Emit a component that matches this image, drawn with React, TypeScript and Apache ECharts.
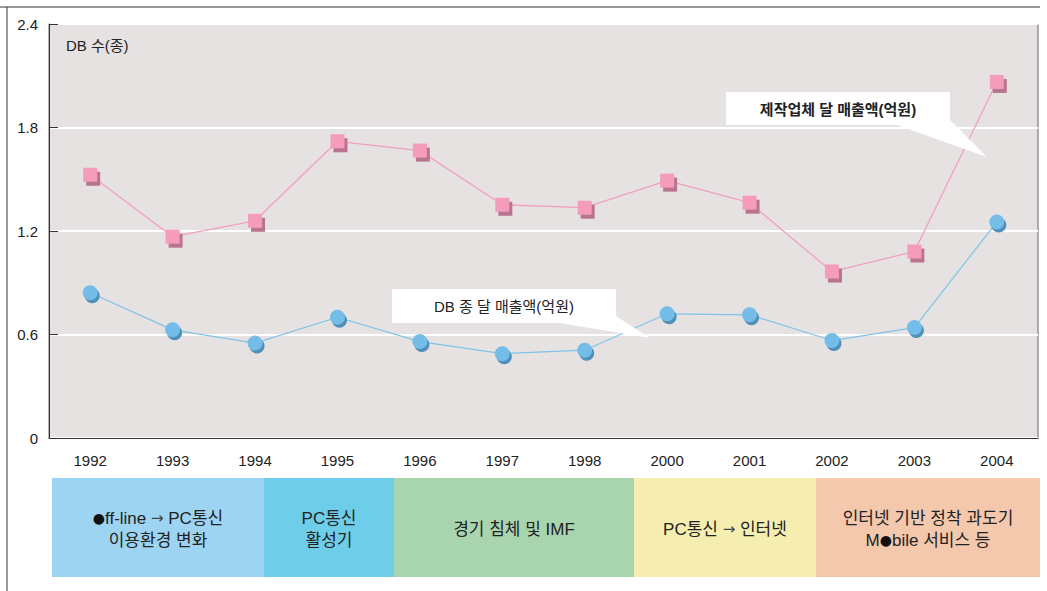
import React, { useEffect, useRef } from "react";
import * as echarts from "echarts";

const years = ["1992", "1993", "1994", "1995", "1996", "1997", "1998", "2000", "2001", "2002", "2003", "2004"];
const makerSales = [1.526, 1.167, 1.259, 1.72, 1.666, 1.352, 1.335, 1.492, 1.364, 0.965, 1.081, 2.064];
const dbSales = [0.842, 0.627, 0.55, 0.7, 0.559, 0.489, 0.509, 0.72, 0.714, 0.565, 0.64, 1.252];
const yTicks = [0, 0.6, 1.2, 1.8, 2.4];
const unitLabel = "DB 수(종)";
const makerLabel = "제작업체 달 매출액(억원)";
const dbLabel = "DB 종 달 매출액(억원)";
const periods = [
  { lines: ["{dot|●}ff-line {arr|→} PC통신", "이용환경 변화"], x0: 52, x1: 264, color: "#9dd4f2" },
  { lines: ["PC통신", "활성기"], x0: 264, x1: 394, color: "#6ecde9" },
  { lines: ["경기 침체 및 IMF"], x0: 394, x1: 634, color: "#a8d5ae" },
  { lines: ["PC통신 {arr|→} 인터넷"], x0: 634, x1: 816, color: "#f5eeb0" },
  { lines: ["인터넷 기반 정착 과도기", "M{dot|●}bile 서비스 등"], x0: 816, x1: 1040, color: "#f3c8ad" },
];

const FONT = "'Liberation Sans', 'Noto Sans CJK KR', sans-serif";

export default function App() {
  const ref = useRef<HTMLDivElement>(null);
  useEffect(() => {
    if (!ref.current) return;
    const chart = echarts.init(ref.current, undefined, { renderer: "svg" });
    const bandGraphics: any[] = [];
    periods.forEach((p) => {
      bandGraphics.push({
        type: "rect",
        shape: { x: p.x0, y: 478, width: p.x1 - p.x0, height: 99 },
        style: { fill: p.color },
        z: 1,
      });
      bandGraphics.push({
        type: "text",
        x: (p.x0 + p.x1) / 2,
        y: 529,
        style: {
          text: p.lines.join("\n"),
          fill: "#222",
          font: `17px ${FONT}`,
          align: "center",
          verticalAlign: "middle",
          lineHeight: 22,
          rich: {
            dot: { fontSize: 14, fill: "#111", fontFamily: "'DejaVu Sans', sans-serif", lineHeight: 22 },
            arr: { fontSize: 15, fill: "#444", fontFamily: "'DejaVu Sans', sans-serif", lineHeight: 22 },
          },
        },
        z: 2,
      });
    });
    const option: any = {
      animation: false,
      backgroundColor: "#ffffff",
      textStyle: { fontFamily: FONT },
      grid: {
        left: 49,
        top: 24,
        right: 9,
        bottom: 153,
        show: true,
        backgroundColor: "#e6e2e1",
        borderColor: "#666",
        borderWidth: 1,
      },
      xAxis: {
        type: "category",
        data: years,
        boundaryGap: true,
        axisLine: { lineStyle: { color: "#333", width: 1 } },
        axisTick: { inside: true, length: 9, lineStyle: { color: "#333" } },
        axisLabel: { color: "#222", fontSize: 15, margin: 15, fontFamily: FONT },
        splitLine: { show: false },
      },
      yAxis: {
        type: "value",
        min: yTicks[0],
        max: yTicks[yTicks.length - 1],
        interval: 0.6,
        axisLine: { show: true, lineStyle: { color: "#333", width: 1 } },
        axisTick: { show: true, inside: true, length: 9, lineStyle: { color: "#333" } },
        axisLabel: { color: "#222", fontSize: 15, margin: 11, fontFamily: FONT },
        splitLine: { show: true, lineStyle: { color: "#ffffff", width: 2 } },
      },
      series: [
        {
          name: makerLabel + " line",
          type: "line",
          data: makerSales,
          showSymbol: false,
          lineStyle: { color: "#f2a0bb", width: 1.3 },
          z: 2,
        },
        {
          name: makerLabel + " shadow",
          type: "line",
          data: makerSales,
          symbol: "rect",
          symbolSize: 14,
          symbolOffset: [3, 4],
          itemStyle: { color: "#b87490" },
          lineStyle: { opacity: 0, width: 0 },
          z: 3,
        },
        {
          name: makerLabel,
          type: "line",
          data: makerSales,
          symbol: "rect",
          symbolSize: 14,
          itemStyle: { color: "#f49cb9" },
          lineStyle: { opacity: 0, width: 0 },
          z: 4,
        },
        {
          name: dbLabel + " line",
          type: "line",
          data: dbSales,
          showSymbol: false,
          lineStyle: { color: "#7fc3ea", width: 1.2 },
          z: 2,
        },
        {
          name: dbLabel + " shadow",
          type: "line",
          data: dbSales,
          symbol: "circle",
          symbolSize: 15,
          symbolOffset: [2, 3],
          itemStyle: { color: "#4f8fb8" },
          lineStyle: { opacity: 0, width: 0 },
          z: 3,
        },
        {
          name: dbLabel,
          type: "line",
          data: dbSales,
          symbol: "circle",
          symbolSize: 15,
          itemStyle: { color: "#74bde8" },
          lineStyle: { opacity: 0, width: 0 },
          z: 4,
        },
      ],
      graphic: [
        { type: "line", shape: { x1: 0, y1: 7, x2: 1040, y2: 7 }, style: { stroke: "#333", lineWidth: 1 }, z: 10 },
        { type: "line", shape: { x1: 7, y1: 7, x2: 7, y2: 591 }, style: { stroke: "#333", lineWidth: 1 }, z: 10 },
        {
          type: "text",
          x: 66,
          y: 45,
          style: { text: unitLabel, fill: "#222", font: `15px ${FONT}`, verticalAlign: "middle" },
          z: 10,
        },
        {
          type: "polygon",
          shape: { points: [[616, 316], [650, 338], [560, 323]] },
          style: { fill: "#ffffff" },
          z: 10,
        },
        {
          type: "rect",
          shape: { x: 392, y: 289, width: 224, height: 34 },
          style: { fill: "#ffffff" },
          z: 10,
        },
        {
          type: "text",
          x: 504,
          y: 306,
          style: { text: dbLabel, fill: "#222", font: `15px ${FONT}`, align: "center", verticalAlign: "middle" },
          z: 11,
        },
        {
          type: "polygon",
          shape: { points: [[950, 120], [987, 157], [897, 125]] },
          style: { fill: "#ffffff" },
          z: 10,
        },
        {
          type: "rect",
          shape: { x: 726, y: 92, width: 224, height: 33 },
          style: { fill: "#ffffff" },
          z: 10,
        },
        {
          type: "text",
          x: 838,
          y: 109,
          style: { text: makerLabel, fill: "#222", font: `bold 15px ${FONT}`, align: "center", verticalAlign: "middle" },
          z: 11,
        },
        ...bandGraphics,
      ],
    };
    chart.setOption(option);
    return () => chart.dispose();
  }, []);
  return (
    <div
      ref={ref}
      style={{ position: "fixed", left: 0, top: 0, width: 1047, height: 591 }}
    />
  );
}
